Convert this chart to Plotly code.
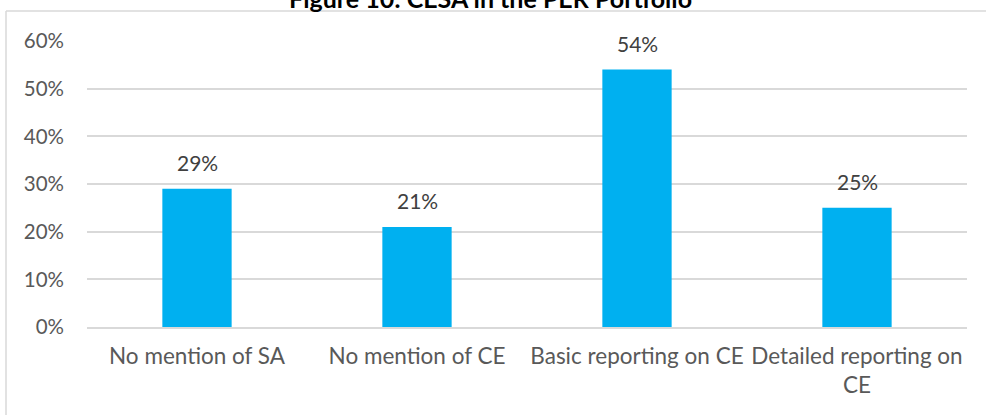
import plotly.graph_objects as go

# Portfolio breakdown by level of CE reporting
categories = ["No mention of SA", "No mention of CE", "Basic reporting on CE", "Detailed reporting on<br>CE"]
shares = [0.29, 0.21, 0.54, 0.25]
tick_values = [0, 0.1, 0.2, 0.3, 0.4, 0.5, 0.6]
tick_labels = ["0%", "10%", "20%", "30%", "40%", "50%", "60%"]
title_text = "Figure 10: CESA in the PER Portfolio"

W, H = 986, 415
M_L, M_R, M_T, M_B = 87, 19, 41, 88
plot_h = H - M_T - M_B
plot_w = W - M_L - M_R

font_family = "Lato, 'Open Sans', sans-serif"

fig = go.Figure(
    go.Bar(
        x=categories,
        y=shares,
        marker=dict(color="#00B0F0", line=dict(width=0)),
        width=0.315,
        hoverinfo="x+y",
    )
)

# value labels sitting a little above each bar
for cat, val in zip(categories, shares):
    fig.add_annotation(
        x=cat, y=val, xref="x", yref="y",
        text=f"{round(val * 100)}%",
        showarrow=False,
        xanchor="center", yanchor="bottom",
        yshift=12,
        font=dict(family=font_family, size=21, color="#404040"),
    )

fig.update_layout(
    width=W,
    height=H,
    margin=dict(l=M_L, r=M_R, t=M_T, b=M_B, pad=0),
    paper_bgcolor="white",
    plot_bgcolor="white",
    showlegend=False,
    font=dict(family=font_family, color="#595959"),
)

fig.update_yaxes(
    range=[0, 0.6],
    tickvals=tick_values,
    ticktext=tick_labels,
    tickfont=dict(family=font_family, size=20.5, color="#595959"),
    showgrid=True,
    gridcolor="#D9D9D9",
    gridwidth=1.5,
    zeroline=False,
    showline=False,
    ticks="",
    ticklabelstandoff=22,
)
fig.update_xaxes(
    tickfont=dict(family=font_family, size=22.5, color="#595959"),
    showline=True,
    linecolor="#D9D9D9",
    linewidth=1.5,
    ticks="",
    ticklabelstandoff=8,
)

# chart frame (top and left edges of the chart area border)
def px_x(p):
    return (p - M_L) / plot_w

def px_y(p):
    return (H - M_B - p) / plot_h

fig.add_shape(type="line", xref="paper", yref="paper",
              x0=px_x(6), x1=px_x(W + 5), y0=px_y(11), y1=px_y(11),
              line=dict(color="#D9D9D9", width=1.5))
fig.add_shape(type="line", xref="paper", yref="paper",
              x0=px_x(6), x1=px_x(6), y0=px_y(11), y1=px_y(H + 5),
              line=dict(color="#D9D9D9", width=1.5))

# title, partly above the top edge of the page
fig.add_annotation(
    text=f"<b>{title_text}</b>",
    xref="paper", yref="paper",
    x=px_x(W / 2 - 3), y=px_y(15),
    xanchor="center", yanchor="bottom",
    showarrow=False,
    font=dict(family=font_family, size=25, color="#000000"),
)

fig.write_html("out.html")
